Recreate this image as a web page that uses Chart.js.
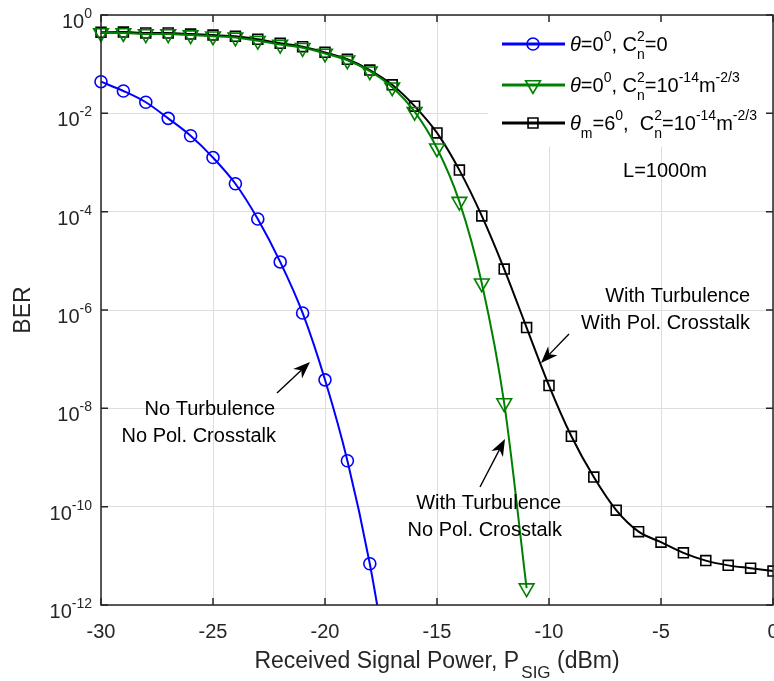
<!DOCTYPE html>
<html>
<head>
<meta charset="utf-8">
<script src="https://cdn.jsdelivr.net/npm/chart.js@4.4.1/dist/chart.umd.min.js"></script>
<style>
  html, body { margin: 0; padding: 0; background: #fff; }
  #wrap { width: 774px; height: 681px; }
</style>
</head>
<body>
<div id="wrap"><canvas id="chart" width="774" height="681"></canvas></div>
<script>
// received signal power (dBm), one marker per dB
const powerDbm = [-30, -29, -28, -27, -26, -25, -24, -23, -22, -21, -20, -19, -18, -17, -16,
                  -15, -14, -13, -12, -11, -10, -9, -8, -7, -6, -5, -4, -3, -2, -1, 0];

// theta=0, Cn2=0 (last point falls below the axis)
const berNoTurb = [0.044, 0.0285, 0.0168, 0.0079, 0.0035, 1.26e-3, 3.7e-4, 7.1e-5, 9.5e-6,
                   8.7e-7, 3.8e-8, 8.6e-10, 6.9e-12, 1.5e-14];
// theta=0, Cn2=1e-14
const berTurb = [0.43, 0.43, 0.41, 0.41, 0.39, 0.37, 0.35, 0.30, 0.25, 0.215, 0.165, 0.12,
                 0.072, 0.034, 0.0108, 1.95e-3, 1.6e-4, 3.5e-6, 1.28e-8, 2.2e-12];
// theta_m=6, Cn2=1e-14
const berTurbXt = [0.445, 0.45, 0.43, 0.43, 0.41, 0.39, 0.37, 0.32, 0.266, 0.227, 0.174, 0.126,
                   0.076, 0.038, 0.014, 4.0e-3, 7.0e-4, 8.2e-5, 6.8e-6, 4.4e-7, 2.9e-8, 2.7e-9,
                   4.0e-10, 8.5e-11, 3.1e-11, 1.9e-11, 1.15e-11, 8.0e-12, 6.4e-12, 5.6e-12, 4.9e-12];

const xTicks = [-30, -25, -20, -15, -10, -5, 0];
const yTickExps = [0, -2, -4, -6, -8, -10, -12];

const FONT = '"Liberation Sans", Arial, sans-serif';
const AXIS = '#262626';

const toPts = ys => ys.map((y, i) => ({ x: powerDbm[i], y }));

// pieces of text with super/subscripts: t, s (size), dy, it (italic), st (stack with next)
function rich(ctx, x, y, parts, draw) {
    let cx = x, hold = 0;
    for (const p of parts) {
        ctx.font = (p.it ? 'italic ' : '') + p.s + 'px ' + FONT;
        const w = ctx.measureText(p.t).width;
        if (draw) ctx.fillText(p.t, cx, y + (p.dy || 0));
        if (p.st) { hold = w; } else { cx += Math.max(w, hold); hold = 0; }
    }
    return cx - x;
}

function arrow(ctx, x1, y1, x2, y2) {
    const a = Math.atan2(y2 - y1, x2 - x1);
    const len = 17, half = 6.5, back = 12;
    const bx = x2 - Math.cos(a) * back, by = y2 - Math.sin(a) * back;
    ctx.beginPath();
    ctx.moveTo(x1, y1);
    ctx.lineTo(bx, by);
    ctx.lineWidth = 1.4;
    ctx.stroke();
    const px = -Math.sin(a), py = Math.cos(a);
    const hx = x2 - Math.cos(a) * len, hy = y2 - Math.sin(a) * len;
    ctx.beginPath();
    ctx.moveTo(x2, y2);
    ctx.lineTo(hx + px * half, hy + py * half);
    ctx.lineTo(bx, by);
    ctx.lineTo(hx - px * half, hy - py * half);
    ctx.closePath();
    ctx.fill();
}

function legendMarker(ctx, style, x, y, color, r, rot) {
    ctx.save();
    ctx.strokeStyle = color;
    ctx.fillStyle = 'rgba(0,0,0,0)';
    ctx.lineWidth = 1.6;
    Chart.helpers.drawPoint(ctx, { pointStyle: style, radius: r, rotation: rot || 0, borderWidth: 1.6 }, x, y);
    ctx.restore();
}

const decorations = {
    id: 'decorations',
    beforeDatasetsDraw(chart) {
        // white legend background hides the grid behind it
        const ctx = chart.ctx;
        ctx.save();
        ctx.fillStyle = '#fff';
        ctx.fillRect(488, 16, 284, 131);
        ctx.restore();
    },
    afterDraw(chart) {
        const ctx = chart.ctx;
        const { left, right, top, bottom } = chart.chartArea;
        const xs = chart.scales.x, ys = chart.scales.y;
        ctx.save();

        // box + inward ticks
        ctx.strokeStyle = AXIS;
        ctx.lineWidth = 1.5;
        ctx.strokeRect(left, top, right - left, bottom - top);
        ctx.beginPath();
        xTicks.forEach(v => {
            const px = xs.getPixelForValue(v);
            ctx.moveTo(px, bottom); ctx.lineTo(px, bottom - 7);
            ctx.moveTo(px, top); ctx.lineTo(px, top + 7);
        });
        yTickExps.forEach(e => {
            const py = ys.getPixelForValue(Math.pow(10, e));
            ctx.moveTo(left, py); ctx.lineTo(left + 7, py);
            ctx.moveTo(right, py); ctx.lineTo(right - 7, py);
        });
        ctx.stroke();

        // tick labels
        ctx.fillStyle = AXIS;
        ctx.textBaseline = 'alphabetic';
        ctx.font = '20px ' + FONT;
        ctx.textAlign = 'center';
        xTicks.forEach(v => ctx.fillText(String(v), xs.getPixelForValue(v), 638));
        ctx.textAlign = 'left';
        yTickExps.forEach(e => {
            const py = ys.getPixelForValue(Math.pow(10, e));
            const parts = [{ t: '10', s: 20 }, { t: String(e), s: 14, dy: -10 }];
            const w = rich(ctx, 0, 0, parts, false);
            rich(ctx, 92 - w, py + 13, parts, true);
        });

        // axis titles
        const xt = [{ t: 'Received Signal Power, P', s: 23 }, { t: ' ', s: 8 },
                    { t: 'SIG', s: 17, dy: 10 }, { t: ' (dBm)', s: 23 }];
        const xw = rich(ctx, 0, 0, xt, false);
        rich(ctx, (left + right) / 2 - xw / 2, 668, xt, true);
        ctx.save();
        ctx.translate(30, (top + bottom) / 2);
        ctx.rotate(-Math.PI / 2);
        ctx.font = '23px ' + FONT;
        ctx.textAlign = 'center';
        ctx.fillText('BER', 0, 0);
        ctx.restore();

        // legend
        const rows = [
            { y: 44, color: '#0000ff', style: 'circle', r: 6, rot: 0,
              parts: [{ t: 'θ', s: 20, it: 1 }, { t: '=0', s: 20 }, { t: '0', s: 14, dy: -10 },
                      { t: ', C', s: 20 }, { t: '2', s: 14, dy: -10, st: 1 }, { t: 'n', s: 14, dy: 8 },
                      { t: '=0', s: 20 }] },
            { y: 85, color: '#008000', style: 'triangle', r: 8.5, rot: 180,
              parts: [{ t: 'θ', s: 20, it: 1 }, { t: '=0', s: 20 }, { t: '0', s: 14, dy: -10 },
                      { t: ', C', s: 20 }, { t: '2', s: 14, dy: -10, st: 1 }, { t: 'n', s: 14, dy: 8 },
                      { t: '=10', s: 20 }, { t: '-14', s: 14, dy: -10 }, { t: 'm', s: 20 },
                      { t: '-2/3', s: 14, dy: -10 }] },
            { y: 123, color: '#000000', style: 'rect', r: 7, rot: 0,
              parts: [{ t: 'θ', s: 20, it: 1 }, { t: 'm', s: 14, dy: 8 }, { t: '=6', s: 20 },
                      { t: '0', s: 14, dy: -10 }, { t: ',  C', s: 20 }, { t: '2', s: 14, dy: -10, st: 1 },
                      { t: 'n', s: 14, dy: 8 }, { t: '=10', s: 20 }, { t: '-14', s: 14, dy: -10 },
                      { t: 'm', s: 20 }, { t: '-2/3', s: 14, dy: -10 }] }
        ];
        rows.forEach(row => {
            ctx.strokeStyle = row.color;
            ctx.lineWidth = 3;
            ctx.beginPath();
            ctx.moveTo(502, row.y); ctx.lineTo(565, row.y);
            ctx.stroke();
            legendMarker(ctx, row.style, 533, row.y, row.color, row.r, row.rot);
            ctx.fillStyle = '#000';
            rich(ctx, 570, row.y + 7, row.parts, true);
        });

        // annotations
        ctx.fillStyle = '#000';
        ctx.strokeStyle = '#000';
        ctx.font = '20px ' + FONT;
        ctx.textAlign = 'center';
        ctx.fillText('L=1000m', 665, 177);
        ctx.textAlign = 'right';
        ctx.fillText('No Turbulence', 275, 415);
        ctx.fillText('No Pol. Crosstalk', 276, 442);
        ctx.fillText('With Turbulence', 750, 302);
        ctx.fillText('With Pol. Crosstalk', 750, 329);
        ctx.fillText('With Turbulence', 561, 509);
        ctx.fillText('No Pol. Crosstalk', 562, 536);
        arrow(ctx, 277, 393, 310, 362);
        arrow(ctx, 569, 334, 541, 363);
        arrow(ctx, 480, 487, 505, 439);

        ctx.restore();
    }
};

const markerClip = { left: 12, right: 12, top: 12, bottom: 0 };

new Chart(document.getElementById('chart'), {
    type: 'line',
    data: {
        datasets: [
            {
                label: 'theta=0, Cn2=0',
                data: toPts(berNoTurb),
                borderColor: '#0000ff',
                borderWidth: 2,
                pointStyle: 'circle',
                pointRadius: 6,
                pointBorderWidth: 1.6,
                pointBackgroundColor: 'rgba(0,0,0,0)',
                cubicInterpolationMode: 'monotone',
                clip: markerClip,
            },
            {
                label: 'theta=0, Cn2=1e-14',
                data: toPts(berTurb),
                borderColor: '#008000',
                borderWidth: 2,
                pointStyle: 'triangle',
                pointRotation: 180,
                pointRadius: 8.5,
                pointBorderWidth: 1.6,
                pointBackgroundColor: 'rgba(0,0,0,0)',
                cubicInterpolationMode: 'monotone',
                clip: markerClip,
            },
            {
                label: 'theta_m=6, Cn2=1e-14',
                data: toPts(berTurbXt),
                borderColor: '#000000',
                borderWidth: 2,
                pointStyle: 'rect',
                pointRadius: 7,
                pointBorderWidth: 1.6,
                pointBackgroundColor: 'rgba(0,0,0,0)',
                cubicInterpolationMode: 'monotone',
                clip: markerClip,
            },
        ],
    },
    options: {
        responsive: false,
        devicePixelRatio: 1,
        animation: false,
        layout: { autoPadding: false, padding: { left: 101, right: 1, top: 15, bottom: 76 } },
        plugins: {
            legend: { display: false },
            tooltip: { enabled: false },
        },
        scales: {
            x: {
                type: 'linear',
                min: -30,
                max: 0,
                afterFit(s) { s.height = 0; },
                afterBuildTicks(s) { s.ticks = xTicks.map(v => ({ value: v })); },
                ticks: { display: false },
                grid: { color: '#dedede', lineWidth: 1, drawTicks: false },
                border: { display: false },
            },
            y: {
                type: 'logarithmic',
                min: 1e-12,
                max: 1,
                afterFit(s) { s.width = 0; },
                afterBuildTicks(s) { s.ticks = yTickExps.map(e => ({ value: Math.pow(10, e) })); },
                ticks: { display: false },
                grid: { color: '#dedede', lineWidth: 1, drawTicks: false },
                border: { display: false },
            },
        },
    },
    plugins: [decorations],
});
</script>
</body>
</html>
